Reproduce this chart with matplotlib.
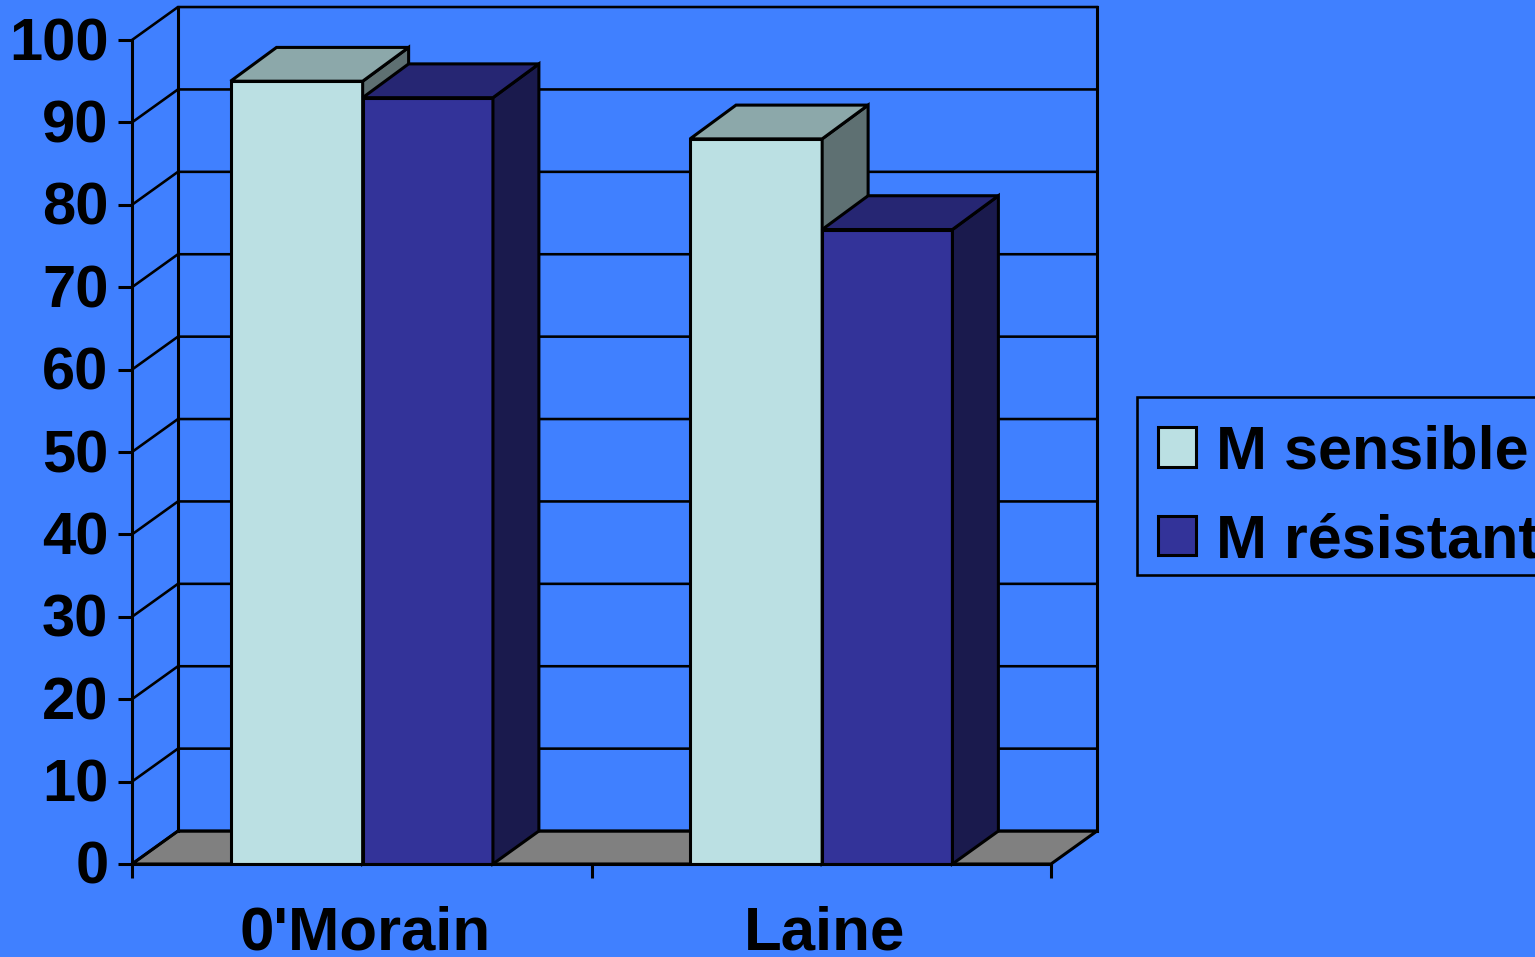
import matplotlib
matplotlib.use('Agg')
import matplotlib.pyplot as plt
from matplotlib.patches import Polygon, Patch, Rectangle
from matplotlib.transforms import ScaledTranslation
import numpy as np

plt.rcParams['font.family'] = ['Liberation Sans', 'DejaVu Sans']
plt.rcParams['font.weight'] = 'bold'

studies = ["0'Morain", "Laine"]
series_names = ['M sensible', 'M résistant']
sensible = [95, 88]
resistant = [93, 77]
y_ticks = [0, 10, 20, 30, 40, 50, 60, 70, 80, 90, 100]

bg = '#4080FF'
ink = 'black'
lw = 2.2
# front, top and side colours of each series
light = ('#BBE0E3', '#8CA8AA', '#5E7072')
dark = ('#333399', '#262673', '#1A1A4D')

fig = plt.figure(figsize=(15.35, 9.57), dpi=100, facecolor=bg)
ax = fig.add_axes([132 / 1535, 93 / 957, 919 / 1535, 824 / 957])
ax.set_xlim(0, 2)
ax.set_ylim(0, 100)
ax.patch.set_visible(False)

# fake 3d offset, in data units
dx = 0.1
dy = 4.0
bar_dy = 4.1

# floor
ax.add_patch(Polygon([(0, 0), (dx, dy), (2 + dx, dy), (2, 0)], closed=True,
                     fc='#808080', ec=ink, lw=lw, clip_on=False, zorder=1))

# back wall and left wall grid
for v in y_ticks:
    ax.plot([0, dx, 2 + dx], [v, v + dy, v + dy], color=ink, lw=lw * 0.85,
            clip_on=False, zorder=1.5, solid_joinstyle='miter')
ax.plot([dx, dx], [dy, 100 + dy], color=ink, lw=lw, clip_on=False, zorder=1.5)
ax.plot([2 + dx, 2 + dx], [dy, 100 + dy], color=ink, lw=lw, clip_on=False, zorder=1.5)


def draw_bars(x_pos, values, colors, width, z):
    ax.bar(x_pos, values, width=width, align='edge', color=colors[0], edgecolor=ink,
           linewidth=lw, zorder=z)
    for x0, v in zip(x_pos, values):
        x1 = x0 + width
        top = [(x0, v), (x0 + dx, v + bar_dy), (x1 + dx, v + bar_dy), (x1, v)]
        side = [(x1, 0), (x1 + dx, dy), (x1 + dx, v + bar_dy), (x1, v)]
        ax.add_patch(Polygon(side, closed=True, fc=colors[2], ec=ink, lw=lw,
                             clip_on=False, zorder=z))
        ax.add_patch(Polygon(top, closed=True, fc=colors[1], ec=ink, lw=lw,
                             clip_on=False, zorder=z))


centers = np.arange(len(studies)) + 0.5
draw_bars(centers - 0.2855, sensible, light, 0.2875, 2)
draw_bars(centers + 0.002, resistant, dark, 0.2835, 2.1)

# axes
for name in ['top', 'right']:
    ax.spines[name].set_visible(False)
for name in ['left', 'bottom']:
    ax.spines[name].set_linewidth(lw)
    ax.spines[name].set_zorder(3)

ax.set_yticks(y_ticks)
ax.set_yticklabels([str(v) for v in y_ticks], fontsize=43, fontweight='bold')
ax.tick_params(axis='y', length=10, width=lw, pad=7)
for lab in ax.get_yticklabels():
    lab.set_transform(lab.get_transform() + ScaledTranslation(0, 1.5 / 100, fig.dpi_scale_trans))

ax.set_xticks([0, 1, 2])
ax.set_xticklabels([])
ax.tick_params(axis='x', which='major', length=10, width=lw)
ax.set_xticks(centers + 0.007, minor=True)
ax.set_xticklabels(studies, minor=True, fontsize=44.5, fontweight='bold')
ax.tick_params(axis='x', which='minor', length=0, pad=30)

# legend box runs past the right edge of the figure
fig.add_artist(Rectangle((1137 / 1535, 1 - 575 / 957), 420 / 1535, 178 / 957,
                         transform=fig.transFigure, fc=bg, ec=ink, lw=lw * 0.85, zorder=4))
handles = [Patch(fc=light[0], ec=ink, lw=lw), Patch(fc=dark[0], ec=ink, lw=lw)]
leg = fig.legend(handles, series_names, loc='upper left',
                 bbox_to_anchor=(1137 / 1535, 1 - 403 / 957), borderaxespad=0,
                 prop={'size': 44, 'weight': 'bold'}, frameon=False,
                 handlelength=0.62, handleheight=0.62, handletextpad=0.32,
                 labelspacing=0.52, borderpad=0.35)
leg.set_zorder(5)

fig.savefig('out.png', dpi=100, facecolor=bg)
